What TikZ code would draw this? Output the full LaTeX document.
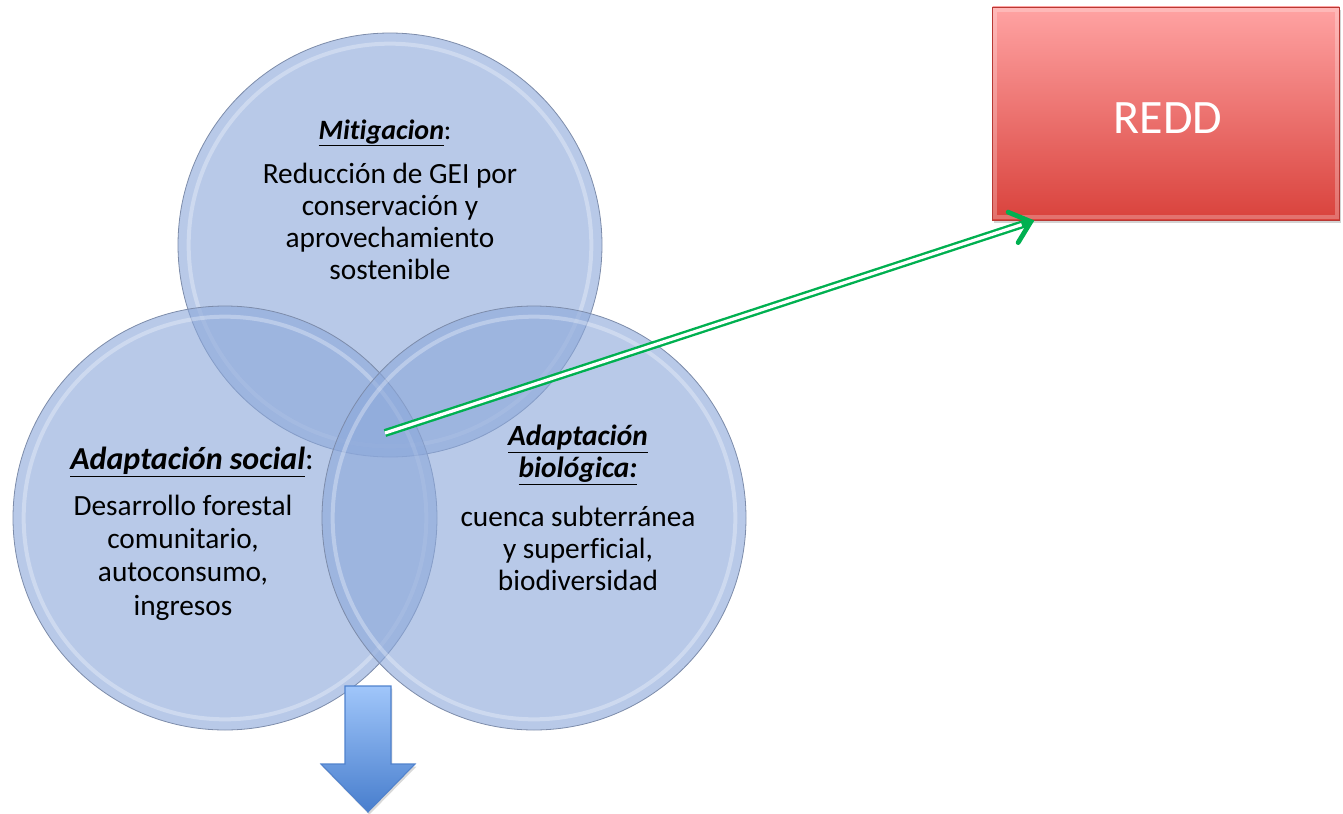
\documentclass[tikz,border=0pt]{standalone}
\usepackage{fontspec}
\setmainfont{Carlito}[Ligatures={NoCommon}]
\usetikzlibrary{arrows.meta,calc,shadows}
\definecolor{circfill}{RGB}{140,168,218}
\definecolor{circedge}{RGB}{125,140,170}
\definecolor{arrgreen}{RGB}{0,176,80}
\definecolor{reddtop}{RGB}{255,163,163}
\definecolor{reddbot}{RGB}{217,66,60}
\definecolor{bluetop}{RGB}{160,198,250}
\definecolor{bluebot}{RGB}{72,126,205}
\definecolor{blueedge}{RGB}{80,130,205}
\tikzset{
  venn/.style={circle, minimum size=318pt, inner sep=0pt, draw=circedge, line width=0.6pt,
    fill=circfill, fill opacity=0.62},
  bevel/.style={draw=white, draw opacity=0.3, line width=3pt},
  txt/.style={align=center, font=\fontsize{22pt}{24pt}\selectfont, text=black},
  reddbox/.style={rectangle, minimum width=260pt, minimum height=160pt, inner sep=0pt,
    top color=reddtop, bottom color=reddbot, draw=reddbot!85!black, line width=0.4pt,
    drop shadow={shadow xshift=1pt, shadow yshift=-2pt, opacity=0.35}},
  reddtxt/.style={text=white, font=\fontsize{36pt}{40pt}\selectfont},
  greenline/.style={draw=arrgreen, double=white, double distance=2.4pt, line width=1.8pt},
  greentip/.style={draw=arrgreen, line width=3.6pt, -{Straight Barb[length=14pt, width=24pt, line width=3.6pt, line cap=round]}},
  downarrow/.style={top color=bluetop, bottom color=bluebot, draw=blueedge, line width=0.8pt,
    drop shadow={shadow xshift=1pt, shadow yshift=-2pt, opacity=0.3}}
}
\begin{document}
\begin{tikzpicture}[x=0.75pt, y=-0.75pt]
\useasboundingbox (0,0) rectangle (1343,814);
% circles
\node[venn] (top) at (390,245) {};
\draw[bevel] (390,245) circle[radius=151pt];
\node[venn] (left) at (225,518) {};
\draw[bevel] (225,518) circle[radius=151pt];
\node[venn] (right) at (534,518) {};
\draw[bevel] (534,518) circle[radius=151pt];
% texts
\node[txt, font=\fontsize{21pt}{24pt}\selectfont] (mith) at (385,133) {\underline{\textbf{\textit{Mitigacion}}}:};
\node[txt, anchor=north] (mitt) at (390,158) {Reducción de GEI por\\conservación y\\aprovechamiento\\sostenible};
\node[txt, font=\fontsize{24pt}{24pt}\selectfont] (soch) at (192,462) {\underline{\textbf{\textit{Adaptación social}}}:};
\node[txt, anchor=north, font=\fontsize{22pt}{25pt}\selectfont] (soct) at (183,490) {Desarrollo forestal\\comunitario,\\autoconsumo,\\ingresos};
\node[txt] (bioh) at (578,455) {\underline{\textbf{\textit{Adaptación}}}\\\underline{\textbf{\textit{biológica:}}}};
\node[txt, anchor=north] (biot) at (578,501) {cuenca subterránea\\y superficial,\\biodiversidad};
% REDD box
\node[reddbox] (redd) at (1166,113.5) {};
\draw[white, opacity=0.25, line width=3pt] ($(redd.south west)+(3,-3)$) rectangle ($(redd.north east)+(-3,3)$);
\node[reddtxt] (reddlabel) at (1168,118) {REDD};
% green arrow
\coordinate (gs) at (385,433);
\coordinate (ge) at ($(redd.south west)+(42,0)$);
\draw[greenline] (gs) -- ($(ge)!6pt!(gs)$);
\draw[greentip] ($(ge)!10pt!(gs)$) -- (ge);
% down arrow
\path[downarrow] (345,686) -- (391,686) -- (391,764) -- (415,764) -- (368,812) -- (321,764) -- (345,764) -- cycle;
\end{tikzpicture}
\end{document}
